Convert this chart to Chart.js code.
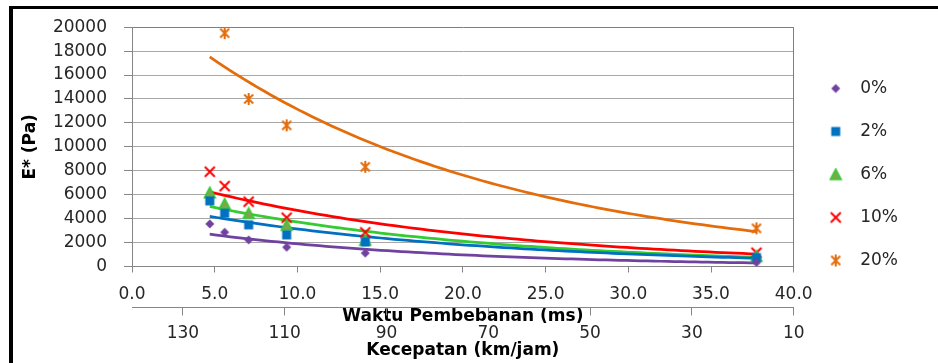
<!DOCTYPE html>
<html lang="id">
<head>
<meta charset="UTF-8">
<title>E* vs Waktu Pembebanan</title>
<script src="https://cdn.jsdelivr.net/npm/chart.js"></script>
<style>
  html, body { margin: 0; padding: 0; background: #fff; }
  .wrap { position: relative; width: 938px; height: 363px; overflow: hidden; }
  .frame { position: absolute; left: 9px; top: 6px; right: 0; bottom: 0;
           border-top: 3px solid #000; border-left: 4px solid #000; pointer-events: none; }
</style>
</head>
<body>
<div class="wrap">
  <canvas id="eChart" width="938" height="363"></canvas>
  <div class="frame"></div>
</div>

<script>
    // data hasil uji: waktu pembebanan (ms) dan E* (Pa) per kadar
    const waktu = [4.7, 5.6, 7.05, 9.35, 14.1, 37.75];
    const kadar = ['0%', '2%', '6%', '10%', '20%'];
    const e0  = [3560, 2860, 2225, 1610, 1120, 330];
    const e2  = [5480, 4450, 3480, 2640, 2050, 750];
    const e6  = [6170, 5230, 4450, 3450, 2200, 850];
    const e10 = [7920, 6720, 5420, 4080, 2850, 1150];
    const e20 = [22000, 19500, 14000, 11800, 8330, 3190];   // titik pertama di luar skala

    // label sumbu
    const waktuTicks = [0, 5, 10, 15, 20, 25, 30, 35, 40];
    const kecepatanTicks = [130, 110, 90, 70, 50, 30, 10];

    const warna = ['#7042A0', '#0070C0', '#33CC33', '#FF0000', '#E46C0A'];

    // bikin marker sendiri supaya mirip excel
    function bikinMarker(gambar) {
        const c = document.createElement('canvas');
        c.width = 14;
        c.height = 14;
        gambar(c.getContext('2d'));
        return c;
    }
    const diamond = bikinMarker(g => {
        g.fillStyle = warna[0];
        g.beginPath();
        g.moveTo(7, 2.5); g.lineTo(11.5, 7); g.lineTo(7, 11.5); g.lineTo(2.5, 7);
        g.closePath();
        g.fill();
    });
    const kotak = bikinMarker(g => {
        g.fillStyle = warna[1];
        g.fillRect(2.5, 2.5, 9, 9);
    });
    const segitiga = bikinMarker(g => {
        g.fillStyle = '#7AA84A';
        g.strokeStyle = warna[2];
        g.lineWidth = 1.5;
        g.beginPath();
        g.moveTo(7, 1.5); g.lineTo(12.5, 12); g.lineTo(1.5, 12);
        g.closePath();
        g.fill();
        g.stroke();
    });
    const silang = bikinMarker(g => {
        g.strokeStyle = warna[3];
        g.lineWidth = 2;
        g.beginPath();
        g.moveTo(2, 2); g.lineTo(12, 12);
        g.moveTo(12, 2); g.lineTo(2, 12);
        g.stroke();
    });
    const bintang = bikinMarker(g => {
        g.strokeStyle = warna[4];
        g.lineWidth = 2;
        g.beginPath();
        g.moveTo(2.5, 2.5); g.lineTo(11.5, 11.5);
        g.moveTo(11.5, 2.5); g.lineTo(2.5, 11.5);
        g.moveTo(7, 1); g.lineTo(7, 13);
        g.stroke();
    });
    const marker = [diamond, kotak, segitiga, silang, bintang];

    // trendline eksponensial (regresi ln y), sama seperti excel
    function trenEksponensial(xs, ys) {
        const n = xs.length;
        let sx = 0, sy = 0, sxx = 0, sxy = 0;
        xs.forEach((x, i) => {
            const ly = Math.log(ys[i]);
            sx += x; sy += ly; sxx += x * x; sxy += x * ly;
        });
        const b = (n * sxy - sx * sy) / (n * sxx - sx * sx);
        const a = Math.exp((sy - b * sx) / n);
        const x0 = Math.min(...xs), x1 = Math.max(...xs);
        const pts = [];
        for (let i = 0; i <= 80; i++) {
            const x = x0 + (x1 - x0) * i / 80;
            pts.push({ x: x, y: a * Math.exp(b * x) });
        }
        return pts;
    }

    const seri = [e0, e2, e6, e10, e20];

    const titik = seri.map((ys, i) => ({
        label: kadar[i],
        data: waktu.map((x, j) => ({ x: x, y: ys[j] })),
        pointStyle: marker[i],
        pointRadius: 6,
        backgroundColor: warna[i],
        borderColor: warna[i],
    }));

    const garis = seri.map((ys, i) => ({
        label: 'tren ' + kadar[i],
        tren: true,
        data: trenEksponensial(waktu, ys),
        showLine: true,
        pointRadius: 0,
        borderColor: warna[i],
        borderWidth: 2.75,
    }));

    Chart.defaults.font.family = "'DejaVu Sans', sans-serif";
    Chart.defaults.color = '#262626';

    const abu = '#868686';
    const fontTick = { size: 17 };
    const fontJudul = { size: 17, weight: 'bold' };

    const ctx = document.getElementById('eChart').getContext('2d');
    const eChart = new Chart(ctx, {
        type: 'scatter',
        data: {
            datasets: titik.concat(garis),
        },
        options: {
            responsive: false,
            animation: false,
            events: [],
            layout: {
                padding: { top: 0, left: 0, right: 30, bottom: 14 }
            },
            plugins: {
                tooltip: { enabled: false },
                legend: {
                    position: 'right',
                    align: 'center',
                    labels: {
                        usePointStyle: true,
                        pointStyleWidth: 32,
                        padding: 26,
                        font: fontTick,
                        color: '#262626',
                        filter: (item, data) => !data.datasets[item.datasetIndex].tren,
                    }
                }
            },
            scales: {
                x: {
                    type: 'linear',
                    position: 'bottom',
                    weight: 0,
                    min: 0,
                    max: 40,
                    afterBuildTicks: s => { s.ticks = waktuTicks.map(v => ({ value: v })); },
                    afterFit: s => { s.height = 41; },
                    ticks: {
                        padding: 12,
                        font: fontTick,
                        callback: v => v.toFixed(1),
                    },
                    grid: { drawOnChartArea: false, tickLength: 6, tickColor: abu },
                    border: { color: abu },
                    title: {
                        display: true,
                        text: 'Waktu Pembebanan (ms)',
                        font: fontJudul,
                        color: '#000',
                        padding: { top: 0, bottom: -19 },
                    }
                },
                x2: {
                    type: 'linear',
                    position: 'bottom',
                    weight: 1,
                    min: 10,
                    max: 140,
                    reverse: true,
                    afterBuildTicks: s => { s.ticks = kecepatanTicks.map(v => ({ value: v })); },
                    afterFit: s => { s.height = 41.5; },
                    ticks: { padding: 8, font: fontTick },
                    grid: { drawOnChartArea: false, tickLength: 8, tickColor: abu },
                    border: { color: abu },
                    title: {
                        display: true,
                        text: 'Kecepatan (km/jam)',
                        font: fontJudul,
                        color: '#000',
                        padding: { top: 0, bottom: -12 },
                    }
                },
                y: {
                    min: 0,
                    max: 20000,
                    afterFit: s => { s.width = 132; },
                    ticks: {
                        stepSize: 2000,
                        padding: 17,
                        font: fontTick,
                        callback: v => String(v),
                    },
                    grid: {
                        color: c => (c.tick && c.tick.value === 20000) ? '#7f7f7f' : '#a8a8a8',
                        tickLength: 8,
                        tickColor: abu,
                    },
                    border: { color: abu },
                    title: {
                        display: true,
                        text: 'E* (Pa)',
                        font: fontJudul,
                        color: '#000',
                        padding: { top: 20, bottom: 0 },
                    }
                },
                yKanan: {
                    position: 'right',
                    min: 0,
                    max: 20000,
                    ticks: { display: false },
                    grid: { drawOnChartArea: false, drawTicks: false },
                    border: { color: '#7f7f7f' },
                }
            }
        }
    });
</script>
</body>
</html>
